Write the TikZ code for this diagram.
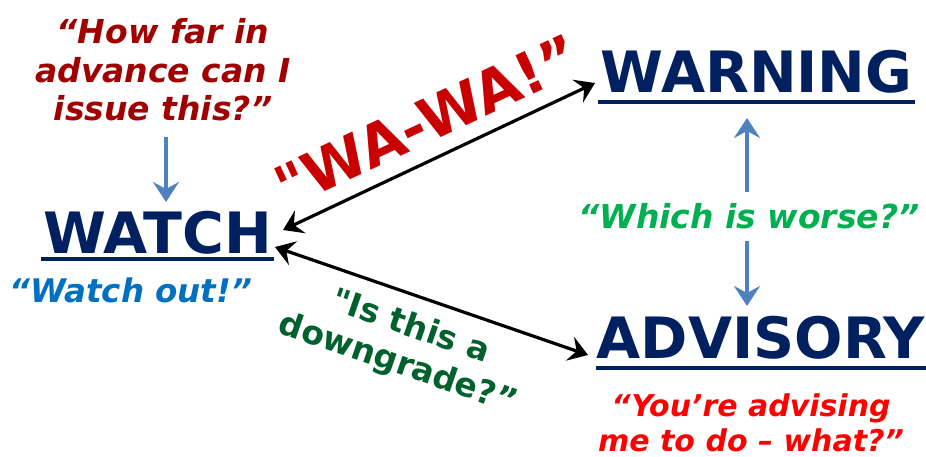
\documentclass[tikz,border=0pt]{standalone}
\usepackage{fontspec}
\setmainfont{DejaVu Sans}
\newfontfamily\straightq{DejaVu Sans}[Ligatures=TeXOff]
\usetikzlibrary{arrows.meta}
\definecolor{navy}{RGB}{0,32,96}
\definecolor{darkred}{RGB}{160,0,0}
\definecolor{wared}{RGB}{200,0,0}
\definecolor{watchblue}{RGB}{0,112,192}
\definecolor{brightgreen}{RGB}{0,176,80}
\definecolor{darkgreen}{RGB}{0,97,45}
\definecolor{arrowblue}{RGB}{79,129,189}
\tikzset{
  title/.style={text=navy, inner sep=0pt, anchor=base, font=\fontsize{57}{60}\selectfont\bfseries},
  uline/.style={draw=navy, line width=4pt},
  quote/.style={inner sep=0pt, align=center, font=\fontsize{33}{38.5}\selectfont\bfseries\itshape},
  slanted/.style={inner sep=0pt, align=center, font=\fontsize{33}{39}\selectfont\bfseries},
  bluearrow/.style={draw=arrowblue, line width=4pt, -{Stealth[length=20pt,width=26pt,inset=7pt]}},
  blackarrow/.style={draw=black, line width=3.2pt, {Stealth[length=19pt,width=25pt,inset=7pt]}-{Stealth[length=19pt,width=25pt,inset=7pt]}}
}
\begin{document}
\begin{tikzpicture}[x=1pt,y=-1pt]
\useasboundingbox (0,0) rectangle (926,457);
% titles
\node[title] (watch) at (157.5,253) {WATCH};
\node[title] (warning) at (756.5,93) {WARNING};
\node[title] (advisory) at (761,358) {ADVISORY};
\draw[uline] ([yshift=-5pt,xshift=-2pt]watch.south west) -- ([yshift=-5pt,xshift=2pt]watch.south east);
\draw[uline] ([yshift=-8pt,xshift=-2pt]warning.south west) -- ([yshift=-8pt,xshift=2pt]warning.south east);
\draw[uline] ([yshift=-9pt,xshift=-1pt]advisory.south west) -- ([yshift=-9pt,xshift=1pt]advisory.south east);
% quotes
\node[quote, text=darkred] (howfar) at (163,70) {“How far in\\advance can I\\issue this?”};
\node[quote, text=watchblue, anchor=base, font=\fontsize{32.5}{38}\selectfont\bfseries\itshape] (watchout) at (131,302) {“Watch out!”};
\node[quote, text=brightgreen, anchor=base] (worse) at (749,229) {“Which is worse?”};
\node[quote, text=red, font=\fontsize{30}{35}\selectfont\bfseries\itshape] (advising) at (751,423) {“You’re advising\\me to do – what?”};
\node[inner sep=0pt, anchor=base, rotate=25, text=wared, font=\fontsize{58}{60}\selectfont\bfseries] (wawa) at (436,140) {{\straightq"}WA-WA!”};
\node[slanted, rotate=-19, text=darkgreen] (downgrade) at (404,346) {{\straightq"}Is this a\\downgrade?”};
% arrow end points
\coordinate (b1s) at (166,137);
\coordinate (b1e) at (166,202);
\coordinate (b2s) at (747,192);
\coordinate (b2e) at (747,118);
\coordinate (b3s) at (747,241);
\coordinate (b3e) at (747,306);
\coordinate (k1a) at (283,230);
\coordinate (k1b) at (595,83);
\coordinate (k2a) at (275,247);
\coordinate (k2b) at (588,355);
\draw[bluearrow] (b1s) -- (b1e);
\draw[bluearrow] (b2s) -- (b2e);
\draw[bluearrow] (b3s) -- (b3e);
\draw[blackarrow] (k1a) -- (k1b);
\draw[blackarrow] (k2a) -- (k2b);
\end{tikzpicture}
\end{document}
